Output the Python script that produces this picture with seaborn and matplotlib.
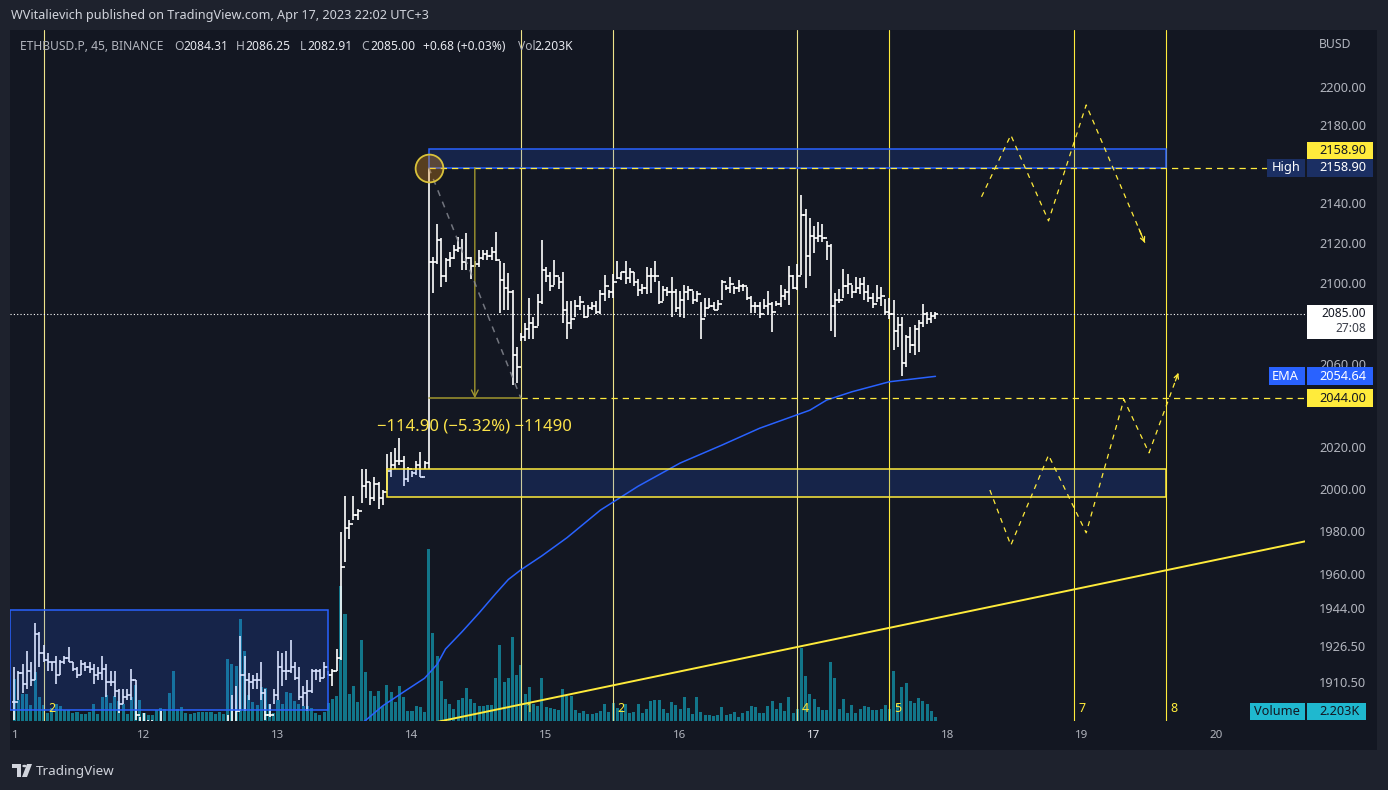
import numpy as np
import matplotlib
matplotlib.use("Agg")
import matplotlib.pyplot as plt
import matplotlib.transforms as mtransforms
from matplotlib.colors import to_rgba
from matplotlib.patches import Rectangle, Polygon, Circle
from matplotlib.ticker import NullLocator
import seaborn as sns

sns.set_theme(style="dark")
plt.rcParams["font.family"] = ["Noto Sans", "DejaVu Sans"]

W, H = 1388, 790
BG = "#131722"
FRAME = "#1e222d"
GREY = "#b2b5be"
WHITE = "#e6e8ee"
DARK = "#131722"
YELLOW = "#ffeb3b"
BLUE = "#2962ff"
NAVY = "#1b2f63"
CYAN = "#1fb8cf"
VOLC = "#12768a"
OLIVE = "#a0962f"

# ---------------- data ----------------
BARS_PER_DAY = 32          # 45 minute bars, bar 0 = Apr 11 00:00
first_bar = 1

highs = [
    1918, 1916, 1919, 1925, 1920, 1938, 1934, 1928, 1924, 1920,
    1923, 1921, 1923, 1927, 1920, 1918, 1921, 1920, 1920, 1919,
    1918, 1923, 1919, 1916, 1916, 1908, 1908, 1908, 1917, 1912,
    1895, 1897, 1894, 1894, 1893, 1898, 1891, 1889, 1888, 1887,
    1888, 1889, 1890, 1889, 1888, 1887, 1888, 1889, 1890, 1891,
    1892, 1896, 1905, 1909, 1932, 1923, 1915, 1914, 1915, 1920,
    1908, 1901, 1908, 1925, 1924, 1925, 1930, 1920, 1918, 1909,
    1912, 1917, 1917, 1917, 1920, 1916, 1917, 1926, 1980, 1997,
    1986, 1997, 1991, 2010, 2010, 2004, 2006, 2004, 2000, 2017,
    2018, 2020, 2025, 2016, 2011, 2009, 2014, 2018, 2014, 2158.9,
    2113.7, 2130, 2123, 2113, 2116, 2119.6, 2123.6, 2122.6, 2125.6, 2113.4,
    2111.7, 2117, 2117, 2117, 2118.8, 2126, 2111.7, 2110.4, 2105.4, 2097,
    2069, 2076, 2080.7, 2093, 2084, 2095, 2122, 2108.4, 2106, 2112,
    2103.5, 2106.3, 2091.6, 2091.6, 2092, 2094, 2089.5, 2089.5, 2091, 2091.6,
    2097, 2104.8, 2097, 2105, 2111.4, 2106, 2111.7, 2108, 2106, 2102.6,
    2100, 2108.4, 2108, 2111.4, 2101.5, 2099, 2098.6, 2103.5, 2097.7, 2096.4,
    2099.6, 2099, 2096.4, 2096.4, 2091, 2093, 2093, 2091, 2092, 2102,
    2099.4, 2103.5, 2099, 2102, 2100, 2098.5, 2094.4, 2091, 2091, 2092.6,
    2096.5, 2091, 2091.5, 2099.4, 2097.6, 2109, 2104.8, 2110, 2145, 2138,
    2133, 2129, 2131, 2130, 2121.5, 2120, 2095.5, 2097.7, 2107.6, 2105,
    2099.8, 2103.5, 2103, 2103.6, 2099.4, 2095.5, 2099.4, 2098.5, 2092.8, 2093,
    2092, 2083.7, 2083.7, 2075, 2079, 2080, 2082.4, 2090, 2086, 2086, 2086.25,
]
lows = [
    1894, 1903, 1906, 1908, 1909, 1912, 1918, 1920, 1916, 1916,
    1910, 1914, 1919, 1920, 1916, 1913, 1914, 1916, 1915, 1910,
    1912, 1912, 1904, 1909, 1904, 1897, 1901, 1903, 1903, 1894,
    1889, 1890, 1888, 1888, 1887, 1888, 1884, 1882, 1881, 1880,
    1881, 1883, 1884, 1883, 1882, 1881, 1882, 1883, 1884, 1885,
    1886, 1888, 1889, 1890, 1898, 1898, 1903, 1908, 1908, 1903,
    1894, 1895, 1901, 1903, 1909, 1912, 1915, 1912, 1903, 1900,
    1898, 1906, 1912, 1911, 1913, 1914, 1909, 1916, 1921, 1966,
    1977, 1986, 1986, 1994, 1996, 1993, 1995, 1991, 1993, 2000,
    2006, 2010, 2012, 2002, 2004, 2006, 2007, 2006, 2010, 2010,
    2095.5, 2110, 2098.5, 2101, 2108.4, 2112.7, 2116, 2107, 2107, 2102.8,
    2108.8, 2108.6, 2112, 2112, 2112, 2111.7, 2085.6, 2087, 2087, 2050.6,
    2051.5, 2072, 2072, 2073, 2073, 2079.5, 2090, 2101, 2096.6, 2099.4,
    2097.7, 2081, 2073, 2078, 2083.7, 2087.3, 2083.4, 2083.7, 2087.3, 2085,
    2085.3, 2091.6, 2093, 2093, 2102.6, 2102, 2100, 2100.5, 2099, 2094.4,
    2095, 2095, 2095.4, 2101, 2090, 2091.6, 2094, 2084, 2086.2, 2084,
    2083.4, 2092, 2090, 2091, 2073, 2083.7, 2088, 2087, 2087, 2092,
    2097, 2095.5, 2095, 2096, 2096.4, 2092.3, 2085.6, 2085.6, 2083.5, 2087.8,
    2084.6, 2076.6, 2089, 2088.6, 2092, 2089.5, 2097.7, 2097, 2104.8, 2098,
    2104, 2115.6, 2121, 2121, 2112, 2077, 2074, 2090.6, 2093, 2095,
    2093, 2095.5, 2095, 2092, 2091, 2088, 2091, 2089, 2084.5, 2083,
    2067.5, 2069, 2055, 2059, 2066, 2065, 2066.6, 2079, 2080.4, 2081, 2082.91,
]
closes = [
    1902, 1915, 1910, 1916, 1912, 1933, 1924, 1921, 1920, 1920,
    1914, 1920, 1922, 1920, 1917, 1914, 1919, 1918, 1917, 1914,
    1915, 1917, 1911, 1911, 1907, 1901, 1904, 1905, 1912, 1896,
    1892, 1893, 1891, 1890, 1889, 1892, 1886, 1885, 1884, 1883,
    1885, 1886, 1887, 1885, 1884, 1883, 1885, 1886, 1888, 1887,
    1889, 1892, 1893, 1898, 1914, 1912, 1911, 1912, 1912, 1906,
    1896, 1896, 1905, 1918, 1916, 1916, 1918, 1913, 1904, 1906,
    1907, 1916, 1916, 1913, 1918, 1914, 1916, 1922, 1964, 1982,
    1984, 1988, 1990, 2002, 2004, 1996, 2003, 1996, 1999, 2009,
    2012, 2014, 2014, 2005, 2010, 2008, 2012, 2006, 2013, 2111,
    2111, 2122, 2104, 2112, 2113, 2117, 2118, 2111, 2113, 2109,
    2110, 2113, 2115, 2114, 2116, 2112, 2102, 2098, 2096, 2065,
    2059, 2074, 2078, 2081, 2079, 2091, 2107, 2104, 2099, 2104,
    2101, 2087, 2081, 2083, 2089, 2091, 2084, 2088, 2089, 2086,
    2095, 2099, 2096, 2101, 2103, 2106, 2103, 2106, 2101, 2097,
    2098, 2104, 2104, 2104, 2091, 2097, 2096, 2096, 2088, 2092,
    2096, 2097, 2092, 2095, 2083, 2088, 2089, 2087, 2090, 2101,
    2098, 2100, 2098, 2099, 2099, 2093, 2089, 2089, 2085, 2089,
    2090, 2086, 2090, 2094, 2096, 2104, 2098, 2104, 2135, 2114,
    2124, 2123, 2124, 2123, 2119, 2089, 2092, 2092, 2099, 2100,
    2096, 2098, 2100, 2096, 2093, 2090, 2093, 2094, 2086, 2085,
    2077, 2080, 2061, 2074, 2070, 2078, 2081, 2085, 2083, 2084.31, 2085.00,
]
volume_k = [
    23.1, 11.6, 14.9, 14.9, 8.8, 27.0, 13.2, 8.8, 4.4, 7.2,
    9.4, 8.3, 6.1, 6.1, 4.4, 5.0, 3.9, 3.9, 5.0, 9.4,
    3.9, 13.2, 14.3, 9.9, 13.8, 11.0, 9.4, 3.9, 13.2, 19.8,
    11.6, 4.4, 3.3, 3.3, 6.1, 7.2, 6.6, 15.4, 27.5, 6.6,
    7.7, 4.4, 3.9, 4.4, 5.0, 5.0, 5.0, 5.0, 3.9, 5.0,
    3.9, 34.1, 31.4, 30.3, 56.1, 38.5, 14.3, 10.5, 8.8, 18.7,
    18.2, 9.4, 4.4, 11.6, 9.4, 16.0, 15.4, 11.0, 9.4, 8.3,
    8.3, 7.2, 4.4, 3.3, 5.0, 9.9, 12.1, 13.8, 74.3, 58.9,
    14.9, 19.3, 10.5, 44.6, 27.0, 16.5, 13.8, 16.5, 8.3, 19.8,
    16.0, 10.5, 19.3, 13.2, 5.5, 5.5, 8.3, 7.7, 5.0, 94.6,
    48.4, 35.8, 22.0, 12.1, 9.4, 6.6, 11.6, 12.7, 18.2, 12.1,
    9.9, 8.3, 8.3, 8.8, 8.8, 23.7, 41.8, 21.5, 23.7, 46.2,
    25.3, 30.8, 14.9, 18.7, 9.4, 8.3, 23.7, 7.7, 7.2, 6.6,
    6.1, 17.6, 13.8, 13.8, 6.1, 4.4, 5.5, 3.9, 3.9, 4.4,
    5.5, 9.4, 5.0, 9.9, 7.2, 6.1, 9.4, 4.4, 5.0, 9.4,
    4.4, 6.6, 11.0, 11.6, 11.6, 6.6, 4.4, 10.5, 8.8, 6.6,
    13.2, 7.2, 3.9, 13.2, 5.0, 3.3, 3.3, 2.8, 3.3, 7.7,
    3.3, 3.9, 5.0, 2.2, 4.4, 5.5, 8.3, 7.7, 4.4, 4.4,
    8.3, 11.0, 6.6, 9.9, 5.5, 13.2, 4.4, 6.6, 40.2, 24.8,
    14.9, 12.1, 7.7, 6.1, 6.1, 32.5, 23.7, 6.6, 12.1, 4.4,
    8.8, 4.4, 6.6, 8.3, 7.7, 6.1, 6.1, 6.6, 8.8, 6.6,
    27.5, 9.4, 18.7, 20.9, 11.0, 9.9, 12.7, 11.0, 9.4, 5.5, 2.203,
]

ema_bar = [78, 85, 89, 94, 99, 102, 104, 108, 112, 116, 119, 122, 127, 133,
           141, 150, 160, 170, 179, 191, 195, 201, 210, 221]
ema_val = [1885, 1893.8, 1900.2, 1906.5, 1912.7, 1919.0, 1926.0, 1934.0, 1942.5,
           1951.5, 1958.0, 1962.5, 1969.0, 1977.5, 1990.5, 2001.8, 2012.8, 2021.4,
           2029.5, 2038.2, 2043.1, 2047.1, 2052.0, 2054.64]

cycle_bar = [8, 122, 144, 188, 210, 254, 276]
cycle_lbl = ["2", "1", "2", "4", "5", "7", "8"]

zig_hi_bar = [232, 239, 248, 257, 271]
zig_hi_val = [2144.0, 2175.6, 2131.8, 2191.2, 2120.8]
zig_lo_bar = [234, 239, 248, 257, 266, 272, 279]
zig_lo_val = [2000.0, 1974.0, 2016.6, 1979.8, 2043.4, 2017.7, 2056.3]

trend_bar = [100, 310]
trend_val = [1892.2, 1976.1]

zone_start = [100, 90, 0]
zone_end = [276, 276, 76]
zone_lo = [2158.9, 1996.6, 1898.3]
zone_hi = [2168.4, 2010.0, 1944.0]
zone_edge = [BLUE, YELLOW, BLUE]

high_level = 2158.90
target_level = 2044.00
range_bars = [100, 122]
range_mid_bar = 111
last_price = 2085.00
ema_last = 2054.64

price_ticks = [2200, 2180, 2140, 2120, 2100, 2060, 2020,
               2000, 1980, 1960, 1944, 1926.5, 1910.5]
day_ticks = [11, 12, 13, 14, 15, 16, 17, 18, 19, 20]
day_lbl = ["1", "12", "13", "14", "15", "16", "17", "18", "19", "20"]

header = [("ETHBUSD.P, 45, BINANCE", 20, GREY), ("O", 174, GREY), ("2084.31", 183, WHITE),
          ("H", 236, GREY), ("2086.25", 245, WHITE), ("L", 300, GREY), ("2082.91", 307, WHITE),
          ("C", 361, GREY), ("2085.00", 370, WHITE), ("+0.68 (+0.03%)", 423, WHITE),
          ("Vol", 518, GREY), ("2.203K", 534, WHITE)]


def day(b):
    return 11 + np.asarray(b, dtype=float) / BARS_PER_DAY


n = min(len(highs), len(lows), len(closes), len(volume_k))
t = day(first_bar + np.arange(n))
hi = np.array(highs[:n])
lo = np.array(lows[:n])
cl = np.array(closes[:n])
op = np.r_[cl[0], cl[:-1]]      # crypto bars open at the previous close
vol = np.array(volume_k[:n])

# ---------------- figure ----------------
fig = plt.figure(figsize=(W / 100, H / 100), dpi=100)
fig.patch.set_facecolor(FRAME)


def fx(px):
    return px / W


def fy(py):
    return 1 - py / H


fig.add_artist(Rectangle((fx(10), fy(750)), fx(1377) - fx(10), fy(30) - fy(750),
                         transform=fig.transFigure, fc=BG, ec="none", zorder=-5))

L, R, T, B = 10, 1305, 30, 721
pos = [fx(L), fy(B), fx(R) - fx(L), fy(T) - fy(B)]
axv = fig.add_axes(pos)
ax = fig.add_axes(pos, sharex=axv)
axv.set_facecolor(BG)
ax.set_facecolor("none")

# volume overlay
axv.bar(t, vol, width=0.72 / BARS_PER_DAY, color=VOLC, linewidth=0)
axv.set_ylim(0, 380)

ax.set_yscale("log")

# cycle lines
tr_time = mtransforms.blended_transform_factory(ax.transData, ax.transAxes)
for i, (b, s) in enumerate(zip(cycle_bar, cycle_lbl)):
    ax.axvline(day(b), color=YELLOW if i >= 4 else "#eee38a", lw=0.8, zorder=2)
    ax.text(day(b) + 0.036, 0.0174, s, transform=tr_time,
            color=YELLOW, fontsize=9, fontweight="bold", va="center", ha="left", zorder=7)

# trend line and EMA
ax.plot(day(trend_bar), trend_val, color=YELLOW, lw=1.4, zorder=3)
sns.lineplot(x=day(ema_bar), y=ema_val, ax=ax, color=BLUE, lw=1.1, estimator=None, sort=False, zorder=3)

# OHLC bars
tick = 0.52 / BARS_PER_DAY
ax.vlines(t, lo, hi, color="white", lw=1.2, zorder=4)
ax.hlines(op, t - tick, t, color="white", lw=1.2, zorder=4)
ax.hlines(cl, t, t + tick, color="white", lw=1.2, zorder=4)

# zones
for b0, b1, p0, p1, ec in zip(zone_start, zone_end, zone_lo, zone_hi, zone_edge):
    ax.add_patch(Rectangle((day(b0), p0), day(b1) - day(b0), p1 - p0,
                           fc=to_rgba(BLUE, 0.18), ec=ec, lw=1.1, zorder=5))

# last price dotted line, levels
ax.axhline(last_price, color="white", lw=0.8, ls=(0, (1, 2)), zorder=5)
xr = 20.664
ax.hlines(high_level, day(range_bars[0]), xr, colors=YELLOW, lw=0.9, linestyles=(0, (5, 4)), zorder=5)
ax.hlines(target_level, day(range_bars[1]), xr, colors=YELLOW, lw=0.9, linestyles=(0, (5, 4)), zorder=5)

# price range tool
ax.plot(day(range_bars), [target_level, target_level], color=OLIVE, lw=1.1, zorder=5)
ax.annotate("", xy=(day(range_mid_bar), target_level), xytext=(day(range_mid_bar), high_level),
            arrowprops=dict(arrowstyle="->", color=OLIVE, lw=1.0, mutation_scale=12, shrinkA=0, shrinkB=0), zorder=5)
ax.plot(day(range_bars), [high_level, target_level], color="#8a8d96", lw=1.1, ls=(0, (4, 4)), alpha=0.8, zorder=5)
ax.scatter([day(range_bars[0])], [high_level], s=400, marker="o", fc=(0.96, 0.6, 0.1, 0.3),
           ec="#d9c23a", lw=1.3, zorder=6)
ax.text(day(range_mid_bar), 2030.5, "\u2212114.90 (\u22125.32%) \u221211490", color="#fbe34a",
        fontsize=12, fontweight="bold", ha="center", va="center", zorder=7)

# projected paths
for xs, ys in ((zig_hi_bar, zig_hi_val), (zig_lo_bar, zig_lo_val)):
    sns.lineplot(x=day(xs), y=ys, ax=ax, color=YELLOW, lw=0.9, linestyle=(0, (4, 4)),
                 estimator=None, sort=False, zorder=5)
    x0, y0, x1, y1 = day(xs[-2]), ys[-2], day(xs[-1]), ys[-1]
    f = 0.1
    ax.annotate("", xy=(x1, y1), xytext=(x1 - f * (x1 - x0), y1 * (y0 / y1) ** f),
                arrowprops=dict(arrowstyle="->", color=YELLOW, lw=0.9, mutation_scale=8, shrinkA=0, shrinkB=0))

ax.set_ylim(1893.4, 2230.5)
ax.set_xlim(11, xr)
for a in (axv, ax):
    a.set_xticks([])
    a.set_yticks([])
    a.yaxis.set_minor_locator(NullLocator())
    a.xaxis.set_minor_locator(NullLocator())
    a.grid(False)
    a.set_xlabel("")
    a.set_ylabel("")
    for s in a.spines.values():
        s.set_visible(False)

# price scale labels
tr_price = mtransforms.blended_transform_factory(ax.transAxes, ax.transData)
for p in price_ticks:
    ax.text((1366 - L) / (R - L), p, f"{p:.2f}", transform=tr_price, ha="right", va="center",
            color=GREY, fontsize=9.2, clip_on=False)

# time scale labels
for d, s in zip(day_ticks, day_lbl):
    first = s == "1"
    bold = s == "17"
    ax.text(d + (0.015 if first else 0), (B - 736) / (B - T), s, transform=tr_time,
            ha="left" if first else "center", va="center", color=WHITE if bold else GREY,
            fontsize=8.3, fontweight="bold" if bold else "normal", clip_on=False)


def ypx(price):
    return H - ax.transData.transform((11.0, price))[1]


def box(x0, x1, yc, h, fc):
    fig.add_artist(Rectangle((fx(x0), fy(yc + h / 2)), (x1 - x0) / W, h / H,
                             transform=fig.transFigure, fc=fc, ec="none", zorder=5))


def label(x, yc, s, color, ha="right", size=9.2, weight="normal"):
    fig.text(fx(x), fy(yc), s, color=color, ha=ha, va="center", fontsize=size,
             fontweight=weight, zorder=6)


y_hi = ypx(high_level)
box(1307, 1373, y_hi - 17.5, 17, YELLOW)
label(1366, y_hi - 17.5, f"{high_level:.2f}", DARK)
box(1267, 1305, y_hi, 18, NAVY)
label(1286, y_hi, "High", "white", ha="center", weight="bold")
box(1307, 1373, y_hi, 18, NAVY)
label(1366, y_hi, f"{high_level:.2f}", "white", weight="bold")

y_last = ypx(last_price)
box(1307, 1373, y_last + 8, 34, "white")
label(1366, y_last - 0.5, f"{last_price:.2f}", DARK, size=8.6)
label(1366, y_last + 14.5, "27:08", "#3b3f4a", size=8.6)

y_ema = ypx(ema_last)
box(1269, 1305, y_ema, 18, BLUE)
label(1285, y_ema, "EMA", "white", ha="center")
box(1307, 1373, y_ema, 18, BLUE)
label(1366, y_ema, f"{ema_last:.2f}", "white")

y_t = ypx(target_level)
box(1307, 1373, y_t, 18, YELLOW)
label(1366, y_t, f"{target_level:.2f}", DARK)

y_v = B - 9.5
box(1250, 1305, y_v, 17, CYAN)
label(1277, y_v, "Volume", DARK, ha="center")
box(1307, 1366, y_v, 17, CYAN)
label(1360, y_v, f"{volume_k[-1]:.3f}K", DARK)

fig.text(fx(1319), fy(45), "BUSD", color=GREY, fontsize=8.8, va="center", ha="left")

# header texts
fig.text(fx(11), fy(16), "WVitalievich published on TradingView.com, Apr 17, 2023 22:02 UTC+3",
         color="#d1d4dc", fontsize=9.1, va="center", ha="left")
for s, x, c in header:
    fig.text(fx(x), fy(46), s, color=c, fontsize=8.7, va="center", ha="left", zorder=6)

# TradingView logo
logo = "#d1d4dc"
fig.add_artist(Polygon([(fx(12), fy(764)), (fx(21), fy(764)), (fx(21), fy(777)), (fx(17), fy(777)),
                        (fx(17), fy(768)), (fx(12), fy(768))], closed=True, transform=fig.transFigure,
                       fc=logo, ec="none"))
fig.add_artist(Circle((fx(24.5), fy(766)), 2.2 / W, transform=fig.transFigure, fc=logo, ec="none"))
fig.add_artist(Polygon([(fx(27), fy(764)), (fx(32), fy(764)), (fx(27), fy(777)), (fx(22), fy(777))],
                       closed=True, transform=fig.transFigure, fc=logo, ec="none"))
fig.text(fx(36), fy(771), "TradingView", color=logo, fontsize=9.7, va="center", ha="left")

fig.savefig("out.png", dpi=100, facecolor=FRAME)
